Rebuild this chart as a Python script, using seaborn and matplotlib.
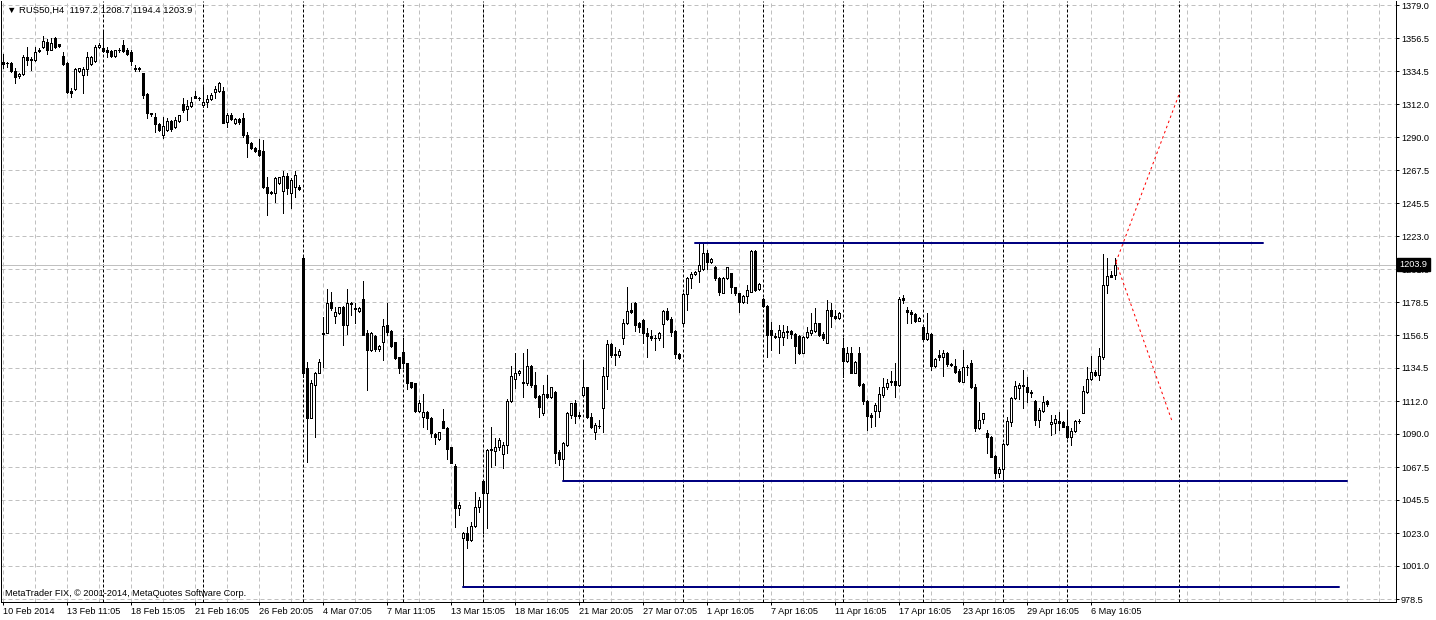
import numpy as np
import pandas as pd
import matplotlib
matplotlib.use("Agg")
import matplotlib.pyplot as plt
from matplotlib.ticker import FixedLocator, MultipleLocator
import seaborn as sns

# RUS50 H4 candles (one row of 10 per line)
opens = [
    1340.7, 1339.6, 1339.6, 1334.7, 1331.1, 1332.4, 1343.7, 1342.2, 1341.9, 1347.8,
    1350.4, 1354.2, 1349.0, 1356.5, 1352.4, 1344.6, 1340.1, 1321.2, 1322.1, 1334.7,
    1331.7, 1335.6, 1339.2, 1341.4, 1350.4, 1349.7, 1349.0, 1348.1, 1344.8, 1348.4,
    1352.0, 1348.6, 1347.5, 1336.0, 1336.4, 1332.9, 1318.7, 1306.1, 1303.2, 1298.7,
    1291.3, 1294.7, 1301.0, 1296.9, 1300.7, 1312.2, 1308.6, 1310.8, 1317.8, 1316.0,
    1311.5, 1313.3, 1315.3, 1320.3, 1321.2, 1321.2, 1300.3, 1304.8, 1299.6, 1302.1,
    1302.5, 1291.3, 1285.7, 1282.5, 1281.2, 1280.5, 1256.0, 1253.1, 1252.4, 1259.2,
    1253.8, 1263.9, 1252.0, 1256.0, 1256.0, 1208.1, 1134.0, 1100.7, 1122.8, 1131.1,
    1157.0, 1158.0, 1178.5, 1169.5, 1171.5, 1175.6, 1163.2, 1177.6, 1174.9, 1172.6,
    1180.5, 1157.6, 1146.3, 1156.0, 1147.0, 1152.0, 1163.2, 1159.2, 1151.5, 1141.4,
    1144.8, 1137.4, 1124.6, 1123.9, 1105.5, 1101.4, 1104.3, 1100.3, 1089.7, 1086.4,
    1098.5, 1093.5, 1080.7, 1068.2, 1039.6, 1019.4, 1023.2, 1018.3, 1027.7, 1040.3,
    1058.1, 1049.7, 1079.4, 1078.5, 1080.7, 1076.3, 1082.1, 1112.2, 1126.6, 1130.6,
    1125.0, 1123.9, 1135.6, 1122.8, 1115.3, 1104.1, 1116.7, 1114.4, 1118.3, 1077.8,
    1072.7, 1082.3, 1102.5, 1110.9, 1101.9, 1116.0, 1121.2, 1101.0, 1091.3, 1095.1,
    1107.0, 1128.8, 1150.4, 1143.0, 1143.0, 1154.2, 1164.3, 1173.3, 1178.3, 1164.3,
    1166.6, 1158.1, 1155.8, 1154.2, 1154.2, 1163.9, 1172.9, 1167.0, 1159.2, 1143.5,
    1164.4, 1183.9, 1194.7, 1197.4, 1199.9, 1200.8, 1212.0, 1206.0, 1202.1, 1194.7,
    1185.1, 1194.7, 1198.1, 1188.7, 1184.6, 1178.5, 1182.8, 1185.7, 1213.1, 1187.3,
    1180.8, 1176.3, 1159.9, 1156.1, 1155.4, 1155.4, 1159.4, 1159.4, 1157.2, 1155.9,
    1144.6, 1155.0, 1157.6, 1159.4, 1164.4, 1157.2, 1151.4, 1173.4, 1169.3, 1167.8,
    1148.0, 1139.2, 1144.2, 1131.1, 1144.2, 1123.5, 1112.3, 1102.6, 1105.5, 1105.5,
    1116.1, 1121.2, 1125.7, 1125.5, 1122.8, 1181.2, 1173.4, 1171.8, 1170.5, 1166.2,
    1161.7, 1153.6, 1157.2, 1135.6, 1143.0, 1141.9, 1144.2, 1137.0, 1135.9, 1132.5,
    1125.1, 1134.7, 1137.4, 1121.2, 1093.6, 1099.7, 1090.7, 1088.0, 1075.0, 1063.7,
    1066.0, 1082.8, 1098.1, 1113.8, 1120.6, 1122.8, 1121.7, 1117.9, 1112.3, 1099.2,
    1105.5, 1112.3, 1096.5, 1097.4, 1098.8, 1098.1, 1095.2, 1087.5, 1092.0, 1098.3,
    1104.2, 1118.3, 1126.6, 1131.8, 1129.5, 1142.0, 1190.2, 1197.0, 1197.2,
]
highs = [
    1346.3, 1340.7, 1340.7, 1336.2, 1333.0, 1345.2, 1350.4, 1344.1, 1350.8, 1349.7,
    1358.0, 1355.8, 1356.5, 1357.5, 1352.8, 1347.5, 1340.7, 1322.8, 1336.2, 1336.8,
    1337.4, 1347.5, 1344.6, 1352.0, 1353.1, 1361.4, 1350.8, 1348.6, 1349.0, 1349.7,
    1355.3, 1349.7, 1348.6, 1338.5, 1337.4, 1333.3, 1319.4, 1306.3, 1305.9, 1299.5,
    1303.7, 1302.5, 1301.4, 1303.7, 1305.0, 1316.0, 1314.9, 1317.1, 1321.2, 1317.1,
    1323.9, 1318.3, 1319.4, 1324.3, 1327.3, 1323.9, 1305.9, 1305.9, 1302.5, 1303.0,
    1305.9, 1293.5, 1286.8, 1283.4, 1288.4, 1287.9, 1263.2, 1253.6, 1263.2, 1263.0,
    1267.3, 1265.5, 1262.1, 1267.3, 1257.6, 1209.5, 1138.5, 1126.1, 1131.7, 1140.1,
    1168.8, 1187.2, 1185.7, 1175.6, 1175.6, 1176.0, 1187.2, 1178.9, 1177.8, 1175.1,
    1192.9, 1159.8, 1158.7, 1156.5, 1150.0, 1167.0, 1177.8, 1159.8, 1152.0, 1141.9,
    1154.2, 1137.8, 1125.0, 1124.3, 1112.6, 1116.7, 1105.5, 1101.0, 1090.6, 1091.3,
    1106.6, 1094.2, 1081.2, 1069.5, 1044.1, 1023.9, 1027.3, 1030.6, 1050.9, 1047.5,
    1058.7, 1079.4, 1094.2, 1086.8, 1086.8, 1084.6, 1113.1, 1135.6, 1144.1, 1132.9,
    1144.1, 1146.8, 1136.3, 1131.8, 1116.0, 1122.8, 1129.5, 1121.6, 1119.0, 1078.9,
    1084.6, 1104.8, 1110.9, 1112.7, 1104.8, 1138.0, 1121.6, 1104.1, 1096.9, 1099.2,
    1135.1, 1153.1, 1151.3, 1148.6, 1146.8, 1167.0, 1188.6, 1178.3, 1178.7, 1165.5,
    1167.0, 1161.0, 1159.9, 1156.5, 1158.7, 1173.3, 1174.5, 1168.8, 1159.9, 1144.1,
    1184.6, 1195.8, 1199.2, 1199.5, 1218.3, 1218.3, 1213.8, 1208.2, 1203.0, 1195.8,
    1195.8, 1202.6, 1198.5, 1189.1, 1185.1, 1183.5, 1190.2, 1213.8, 1213.8, 1191.3,
    1181.2, 1176.7, 1165.5, 1157.6, 1163.3, 1163.3, 1162.6, 1159.9, 1157.6, 1156.5,
    1155.9, 1161.7, 1171.1, 1174.5, 1164.8, 1158.8, 1180.1, 1177.9, 1173.4, 1172.2,
    1154.3, 1148.7, 1148.2, 1139.0, 1148.7, 1123.9, 1112.7, 1103.7, 1110.5, 1121.7,
    1127.3, 1126.6, 1132.5, 1137.4, 1181.9, 1183.5, 1175.2, 1173.4, 1171.1, 1168.5,
    1162.1, 1171.1, 1157.6, 1140.8, 1146.4, 1146.4, 1145.3, 1137.4, 1140.1, 1133.4,
    1146.4, 1136.3, 1139.7, 1123.5, 1111.6, 1104.2, 1092.5, 1088.4, 1075.6, 1067.8,
    1083.5, 1101.0, 1115.0, 1125.7, 1123.9, 1132.9, 1128.4, 1119.4, 1112.7, 1107.1,
    1115.4, 1112.7, 1102.6, 1102.6, 1104.8, 1098.8, 1106.0, 1093.6, 1099.2, 1099.7,
    1122.1, 1134.7, 1142.4, 1132.9, 1147.5, 1211.1, 1208.2, 1199.9, 1208.7,
]
lows = [
    1336.2, 1337.4, 1334.0, 1326.1, 1330.0, 1331.7, 1338.5, 1335.1, 1341.4, 1347.5,
    1349.7, 1346.0, 1348.5, 1350.0, 1351.0, 1338.5, 1319.4, 1316.7, 1321.6, 1334.0,
    1319.8, 1331.7, 1338.5, 1340.7, 1349.7, 1347.5, 1344.1, 1344.1, 1344.1, 1347.5,
    1347.5, 1345.2, 1338.5, 1334.7, 1334.7, 1316.0, 1302.5, 1304.1, 1293.5, 1294.0,
    1289.0, 1294.2, 1294.2, 1295.8, 1300.0, 1307.0, 1301.4, 1310.4, 1316.0, 1314.9,
    1310.4, 1310.4, 1314.9, 1316.0, 1320.5, 1299.2, 1296.5, 1301.4, 1299.0, 1299.0,
    1290.2, 1276.7, 1281.6, 1280.0, 1277.1, 1255.3, 1237.4, 1251.5, 1246.4, 1258.5,
    1238.5, 1251.5, 1241.9, 1249.7, 1254.2, 1128.0, 1071.1, 1100.3, 1087.5, 1130.6,
    1135.1, 1157.6, 1173.3, 1164.8, 1170.8, 1149.7, 1157.1, 1169.9, 1164.8, 1172.0,
    1156.5, 1119.4, 1145.9, 1145.9, 1146.0, 1139.6, 1156.5, 1148.1, 1140.1, 1131.1,
    1134.0, 1119.8, 1120.5, 1104.8, 1104.8, 1094.2, 1092.9, 1087.9, 1083.0, 1085.7,
    1093.5, 1072.6, 1070.0, 1027.3, 1035.1, 986.8, 1012.7, 1017.8, 1027.3, 1037.4,
    1023.2, 1026.1, 1067.7, 1068.8, 1078.9, 1066.6, 1077.2, 1111.5, 1120.5, 1129.5,
    1114.4, 1122.8, 1121.6, 1113.8, 1101.0, 1102.5, 1113.8, 1113.8, 1070.4, 1068.8,
    1058.3, 1081.6, 1100.3, 1096.9, 1100.3, 1115.3, 1100.3, 1093.5, 1086.1, 1093.5,
    1091.3, 1119.8, 1141.4, 1136.3, 1141.9, 1150.4, 1163.9, 1171.5, 1159.4, 1158.7,
    1151.3, 1141.9, 1153.1, 1146.4, 1153.1, 1148.2, 1166.6, 1155.8, 1140.8, 1140.6,
    1164.0, 1173.4, 1188.0, 1196.9, 1192.5, 1200.3, 1200.8, 1205.3, 1193.6, 1183.5,
    1184.6, 1194.0, 1184.6, 1183.5, 1172.2, 1177.9, 1178.3, 1185.3, 1186.4, 1186.9,
    1175.6, 1141.9, 1146.4, 1154.3, 1144.6, 1149.8, 1154.3, 1154.3, 1137.9, 1143.7,
    1144.2, 1154.3, 1156.5, 1158.8, 1155.9, 1153.2, 1150.9, 1162.1, 1167.1, 1167.1,
    1128.4, 1138.5, 1130.7, 1130.7, 1122.1, 1110.0, 1092.5, 1094.7, 1095.2, 1101.5,
    1114.5, 1119.9, 1122.8, 1114.5, 1122.1, 1177.9, 1164.4, 1164.8, 1165.5, 1165.8,
    1153.2, 1153.2, 1132.9, 1134.7, 1139.7, 1128.9, 1135.6, 1135.6, 1130.7, 1125.1,
    1125.1, 1129.6, 1120.6, 1092.0, 1093.2, 1097.4, 1076.8, 1074.1, 1059.9, 1061.0,
    1058.8, 1082.4, 1095.2, 1113.2, 1113.2, 1107.1, 1111.6, 1115.0, 1095.9, 1094.7,
    1104.8, 1108.7, 1089.1, 1090.7, 1092.5, 1094.3, 1086.9, 1082.4, 1091.4, 1097.0,
    1103.7, 1117.2, 1126.2, 1128.9, 1126.2, 1140.1, 1185.1, 1195.4, 1194.4,
]
closes = [
    1339.0, 1339.8, 1334.7, 1330.2, 1332.4, 1343.7, 1341.9, 1342.5, 1347.5, 1348.6,
    1354.7, 1349.0, 1353.5, 1350.8, 1351.3, 1339.2, 1320.5, 1319.4, 1335.6, 1336.2,
    1335.8, 1344.1, 1343.7, 1350.8, 1352.0, 1348.1, 1347.5, 1344.8, 1348.6, 1348.6,
    1348.1, 1346.3, 1341.4, 1336.4, 1335.9, 1318.3, 1305.9, 1305.7, 1298.7, 1294.7,
    1297.4, 1301.0, 1295.1, 1301.4, 1304.8, 1308.1, 1310.8, 1313.5, 1316.5, 1316.2,
    1313.8, 1315.6, 1318.3, 1322.1, 1326.1, 1299.6, 1304.8, 1301.9, 1302.1, 1299.8,
    1291.3, 1285.7, 1282.3, 1280.7, 1277.8, 1256.0, 1252.0, 1252.0, 1262.5, 1262.8,
    1263.7, 1255.3, 1261.0, 1264.3, 1254.7, 1131.1, 1100.7, 1123.9, 1131.1, 1138.0,
    1158.0, 1177.8, 1174.9, 1171.7, 1175.1, 1163.2, 1177.8, 1178.0, 1173.8, 1174.4,
    1156.5, 1146.3, 1158.0, 1146.8, 1149.3, 1162.8, 1158.7, 1149.0, 1140.7, 1134.0,
    1137.4, 1124.3, 1121.6, 1105.5, 1110.8, 1104.3, 1100.3, 1090.6, 1087.5, 1090.8,
    1094.0, 1079.8, 1070.4, 1039.6, 1041.9, 1023.2, 1018.3, 1027.7, 1040.3, 1045.2,
    1049.7, 1078.9, 1078.9, 1080.7, 1085.7, 1082.1, 1112.2, 1128.8, 1130.6, 1132.2,
    1124.3, 1135.6, 1122.8, 1114.9, 1108.2, 1116.7, 1114.4, 1121.2, 1077.2, 1072.7,
    1083.4, 1104.1, 1110.4, 1101.9, 1102.1, 1121.2, 1101.0, 1094.2, 1095.8, 1095.4,
    1128.8, 1150.4, 1143.0, 1143.7, 1145.7, 1164.3, 1172.9, 1172.2, 1163.2, 1162.1,
    1157.6, 1155.8, 1154.7, 1154.4, 1158.1, 1172.9, 1167.0, 1158.7, 1143.5, 1140.8,
    1183.9, 1194.7, 1197.4, 1198.8, 1203.7, 1212.0, 1206.0, 1207.5, 1194.7, 1185.7,
    1194.7, 1202.1, 1188.7, 1184.6, 1178.5, 1182.8, 1186.9, 1213.1, 1186.9, 1190.9,
    1176.1, 1156.5, 1156.5, 1155.4, 1159.9, 1158.3, 1158.3, 1157.2, 1149.1, 1144.6,
    1155.4, 1158.8, 1159.9, 1164.4, 1156.5, 1154.3, 1173.4, 1169.3, 1167.8, 1171.1,
    1139.2, 1144.2, 1131.1, 1138.5, 1122.8, 1112.3, 1101.9, 1101.0, 1109.3, 1116.7,
    1121.2, 1123.9, 1125.1, 1122.8, 1180.6, 1180.1, 1172.3, 1170.5, 1166.2, 1167.8,
    1153.6, 1157.6, 1135.9, 1140.3, 1141.9, 1144.2, 1136.7, 1136.3, 1131.8, 1125.7,
    1134.7, 1135.2, 1121.2, 1093.6, 1099.2, 1103.7, 1087.5, 1074.5, 1063.7, 1066.0,
    1083.0, 1098.6, 1114.3, 1122.1, 1122.8, 1122.1, 1117.9, 1117.2, 1099.2, 1106.0,
    1111.6, 1109.8, 1098.1, 1099.7, 1097.4, 1094.7, 1087.5, 1092.0, 1098.8, 1098.6,
    1118.8, 1126.6, 1131.8, 1129.5, 1142.4, 1190.2, 1196.3, 1195.8, 1203.9,
]

# bar index where each new week starts (period separators)
week_starts = [25, 50, 75, 100, 120, 145, 170, 190, 210, 230, 250, 266, 294]

date_labels = [
    "10 Feb 2014", "13 Feb 11:05", "18 Feb 15:05", "21 Feb 16:05", "26 Feb 20:05",
    "4 Mar 07:05", "7 Mar 11:05", "13 Mar 15:05", "18 Mar 16:05", "21 Mar 20:05",
    "27 Mar 07:05", "1 Apr 16:05", "7 Apr 16:05", "11 Apr 16:05", "17 Apr 16:05",
    "23 Apr 16:05", "29 Apr 16:05", "6 May 16:05",
]
price_labels = [
    "978.5", "1001.0", "1023.0", "1045.5", "1067.5", "1090.0", "1112.0", "1134.5",
    "1156.5", "1178.5", "1201.0", "1223.0", "1245.5", "1267.5", "1290.0", "1312.0",
    "1334.5", "1356.5", "1379.0",
]

# horizontal levels drawn by hand (price, first bar, last bar)
level_price = [1218.5, 1058.1, 986.6]
level_start = [173, 140, 115]
level_end = [315, 336, 334]

# red dotted projections from the current price
proj_x = [278.25, 294.25, 278.25, 292.25]
proj_y = [1205.7, 1320.5, 1205.7, 1098.5]
proj_id = ["up", "up", "down", "down"]

symbol = "RUS50"
timeframe = "H4"

# ---------------------------------------------------------------------------
sns.set_theme(style="white")
plt.rcParams["font.family"] = ["Liberation Sans", "DejaVu Sans"]

W, H = 1436, 620
px = 0.72  # one pixel in points at dpi 100
fs = 6.6

fig = plt.figure(figsize=(W / 100, H / 100), dpi=100)
fig.patch.set_facecolor("white")
ax = fig.add_axes([1 / W, 18 / H, 1395 / W, 601 / H])
ax.set_facecolor("white")

n = len(closes)
x = np.arange(n)
o = np.array(opens)
h = np.array(highs)
l = np.array(lows)
c = np.array(closes)
up = c >= o

# grid
grid_col = "#c0c0c0"
ax.set_xlim(-0.5, 348.25)
ax.set_ylim(976.5, 1381.7)
ax.xaxis.set_major_locator(FixedLocator(np.arange(len(date_labels)) * 16))
ax.xaxis.set_minor_locator(MultipleLocator(8))
ax.set_xticklabels(date_labels, ha="left")
ax.set_yticks([float(v) for v in price_labels])
ax.set_yticklabels(price_labels)
ax.yaxis.tick_right()
ax.grid(True, which="both", axis="x", color=grid_col, lw=px, ls=(0, (4, 3)), zorder=0)
ax.grid(True, which="major", axis="y", color=grid_col, lw=px, ls=(0, (4, 3)), zorder=0)
ax.set_axisbelow(True)
ax.tick_params(axis="x", which="major", direction="out", length=2.5, width=px,
               pad=0.8, labelsize=fs, colors="black", bottom=True)
ax.tick_params(axis="x", which="minor", length=0)
ax.tick_params(axis="y", direction="out", length=2, width=px, pad=1.5,
               labelsize=fs, colors="black", right=True, left=False)
for side in ["left", "right", "bottom"]:
    ax.spines[side].set_color("black")
    ax.spines[side].set_linewidth(px)
ax.spines["top"].set_visible(False)

# week separators
for ws in week_starts:
    ax.axvline(ws, color="black", lw=px, ls=(0, (3, 2)), zorder=1)

# current price line
ax.axhline(c[-1], color="#c0c0c0", lw=px, zorder=1)

# candles
ax.vlines(x, l, h, color="black", lw=px, zorder=3, antialiased=False)
body_h = np.maximum(np.abs(c - o), 0.35)
body_b = np.minimum(o, c)
ax.bar(x[up], body_h[up], bottom=body_b[up], width=0.5, facecolor="white",
       edgecolor="black", linewidth=px, zorder=4, antialiased=False)
ax.bar(x[~up], body_h[~up], bottom=body_b[~up], width=0.5, facecolor="black",
       edgecolor="black", linewidth=px, zorder=4, antialiased=False)

# support / resistance levels
lv = pd.DataFrame({
    "level": np.repeat(np.arange(len(level_price)), 2),
    "x": np.ravel(np.column_stack([level_start, level_end])),
    "price": np.repeat(level_price, 2),
})
sns.lineplot(data=lv, x="x", y="price", units="level", estimator=None,
             color="#000080", lw=2 * px, ax=ax, zorder=5, legend=False)

# projections
pj = pd.DataFrame({"x": proj_x, "price": proj_y, "id": proj_id})
sns.lineplot(data=pj, x="x", y="price", units="id", estimator=None, sort=False,
             color="#ff0000", lw=px, ls=(0, (2.5, 3)), ax=ax, zorder=5, legend=False)
ax.set_xlabel("")
ax.set_ylabel("")

# price tag
ax.text(1.0025, c[-1], f"{c[-1]:.1f}", transform=ax.get_yaxis_transform(),
        ha="left", va="center", fontsize=fs, color="white", zorder=10, clip_on=False,
        bbox=dict(facecolor="black", edgecolor="black", pad=1.6))

# header and footer texts
fig.text(7 / W, 1 - 10 / H,
         f"\u25bc {symbol},{timeframe}  {o[-1]:.1f} {h[-1]:.1f} {l[-1]:.1f} {c[-1]:.1f}",
         ha="left", va="center", fontsize=fs + 0.2, color="black")
fig.text(5 / W, 1 - 593 / H, "MetaTrader FIX, \u00a9 2001-2014, MetaQuotes Software Corp.",
         ha="left", va="center", fontsize=fs, color="black")

fig.savefig("out.png", dpi=100, facecolor="white")
